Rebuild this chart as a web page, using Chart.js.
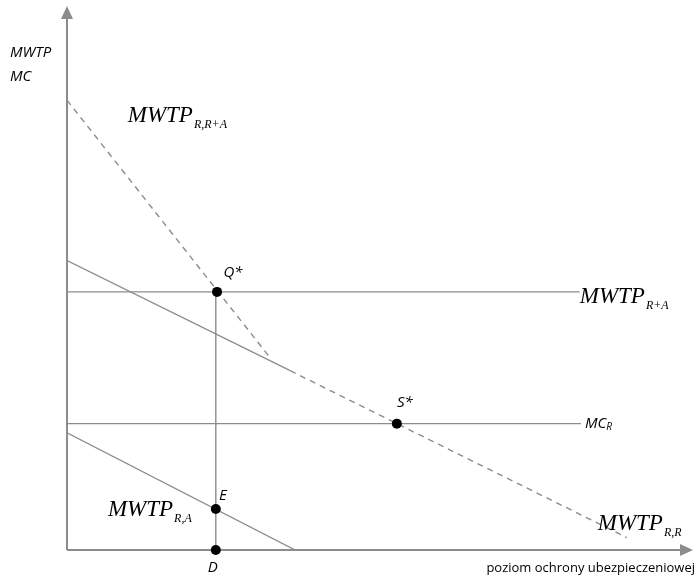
<!DOCTYPE html>
<html>
<head>
<meta charset="utf-8">
<script src="https://cdn.jsdelivr.net/npm/chart.js@4.4.0/dist/chart.umd.min.js"></script>
<style>
html, body { margin: 0; padding: 0; background: #fff; }
#wrap { width: 697px; height: 579px; }
</style>
</head>
<body>
<div id="wrap"><canvas id="myChart"></canvas></div>
<script>
// curves as [x, y] pairs, both axes run 0..100 (no units on the diagram)
var mwtpRRA = [[0, 83.3], [32.7, 35.7]];
var mwtpRRsolid = [[0, 53.6], [36, 33.2]];
var mwtpRRdashed = [[36, 33.2], [90.3, 2.3]];
var mwtpRA = [[0, 21.7], [36.8, 0]];
var mwtpRplusA = [[0, 47.8], [82.7, 47.8]];
var mcR = [[0, 23.4], [82.9, 23.4]];
var dLine = [[24, 0], [24, 47.8]];

// marked points
var pointNames = ['Q*', 'S*', 'E', 'D'];
var pointX = [24.2, 53.2, 24, 24];
var pointY = [47.8, 23.4, 7.6, 0];

function toXY(arr) {
    return arr.map(function (p) { return { x: p[0], y: p[1] }; });
}

var grey = '#8c8c8c';

function lineSet(arr, dashed) {
    return {
        data: toXY(arr),
        showLine: true,
        borderColor: grey,
        borderWidth: 1.4,
        borderDash: dashed ? [6, 5] : [],
        pointRadius: 0,
        pointHoverRadius: 0
    };
}

// big serif label with subscript, like MWTP_R,R
function drawSub(ctx, x, y, main, sub) {
    ctx.font = 'italic 23px "Liberation Serif", "DejaVu Serif", serif';
    ctx.fillStyle = '#000';
    ctx.textAlign = 'left';
    ctx.textBaseline = 'alphabetic';
    ctx.fillText(main, x, y);
    var w = ctx.measureText(main).width;
    ctx.font = 'italic 12px "Liberation Serif", "DejaVu Serif", serif';
    ctx.fillText(sub, x + w + 1, y + 6);
}

function drawText(ctx, x, y, txt, font, align) {
    ctx.font = font;
    ctx.fillStyle = '#000';
    ctx.textAlign = align || 'left';
    ctx.textBaseline = 'middle';
    ctx.fillText(txt, x, y);
}

var diagramPlugin = {
    id: 'diagram',
    beforeDatasetsDraw: function (chart) {
        var ctx = chart.ctx;
        var a = chart.chartArea;
        var x0 = a.left, y0 = a.bottom;
        ctx.save();
        ctx.strokeStyle = grey;
        ctx.fillStyle = grey;
        ctx.lineWidth = 2;
        // y axis
        ctx.beginPath();
        ctx.moveTo(x0, y0);
        ctx.lineTo(x0, 16);
        ctx.stroke();
        ctx.beginPath();
        ctx.moveTo(x0, 6);
        ctx.lineTo(x0 - 6, 19);
        ctx.lineTo(x0 + 6, 19);
        ctx.closePath();
        ctx.fill();
        // x axis
        ctx.beginPath();
        ctx.moveTo(x0, y0);
        ctx.lineTo(682, y0);
        ctx.stroke();
        ctx.beginPath();
        ctx.moveTo(693, y0);
        ctx.lineTo(680, y0 - 6);
        ctx.lineTo(680, y0 + 6);
        ctx.closePath();
        ctx.fill();
        ctx.restore();
    },
    afterDatasetsDraw: function (chart) {
        var ctx = chart.ctx;
        var xs = chart.scales.x, ys = chart.scales.y;
        var sans = 'italic 15px "Open Sans", "Noto Sans", sans-serif';
        ctx.save();

        drawText(ctx, 10, 53, 'MWTP', sans);
        drawText(ctx, 10, 77, 'MC', sans);
        drawText(ctx, 695, 568, 'poziom ochrony ubezpieczeniowej', '13px "Open Sans", "Noto Sans", sans-serif', 'right');

        // curve names
        drawSub(ctx, xs.getPixelForValue(9.8), ys.getPixelForValue(79.3), 'MWTP', 'R,R+A');
        drawSub(ctx, xs.getPixelForValue(82.7), ys.getPixelForValue(45.7), 'MWTP', 'R+A');
        drawSub(ctx, xs.getPixelForValue(85.6), ys.getPixelForValue(3.7), 'MWTP', 'R,R');
        drawSub(ctx, xs.getPixelForValue(6.6), ys.getPixelForValue(6.3), 'MWTP', 'R,A');

        // MC_R
        var mx = xs.getPixelForValue(mcR[1][0]) + 4;
        var my = ys.getPixelForValue(mcR[1][1]);
        drawText(ctx, mx, my, 'MC', sans);
        var mw = ctx.measureText('MC').width;
        drawText(ctx, mx + mw, my + 4, 'R', 'italic 10px "Open Sans", "Noto Sans", sans-serif');

        // point names
        var offs = [[16, -19], [8, -21], [7, -13], [-3, 18]];
        for (var i = 0; i < pointNames.length; i++) {
            drawText(ctx, xs.getPixelForValue(pointX[i]) + offs[i][0],
                ys.getPixelForValue(pointY[i]) + offs[i][1], pointNames[i], sans, 'center');
        }
        ctx.restore();
    }
};

var ctx = document.getElementById('myChart').getContext('2d');

var pts = pointX.map(function (v, i) { return { x: v, y: pointY[i] }; });

// first dataset is painted on top, so the dots go first
var myChart = new Chart(ctx, {
    type: 'scatter',
    data: {
        datasets: [
            {
                data: pts,
                showLine: false,
                clip: false,
                pointRadius: 5,
                pointBackgroundColor: '#000',
                pointBorderColor: '#000',
                pointBorderWidth: 0
            },
            lineSet(mwtpRRA, true),
            lineSet(mwtpRRsolid, false),
            lineSet(mwtpRRdashed, true),
            lineSet(mwtpRA, false),
            lineSet(mwtpRplusA, false),
            lineSet(mcR, false),
            lineSet(dLine, false)
        ]
    },
    options: {
        responsive: true,
        maintainAspectRatio: false,
        animation: false,
        layout: { padding: { left: 67, right: 10, top: 10, bottom: 29 } },
        plugins: {
            legend: { display: false },
            tooltip: { enabled: false }
        },
        scales: {
            x: { type: 'linear', min: 0, max: 100, display: false },
            y: { type: 'linear', min: 0, max: 100, display: false }
        }
    },
    plugins: [diagramPlugin]
});
</script>
</body>
</html>
